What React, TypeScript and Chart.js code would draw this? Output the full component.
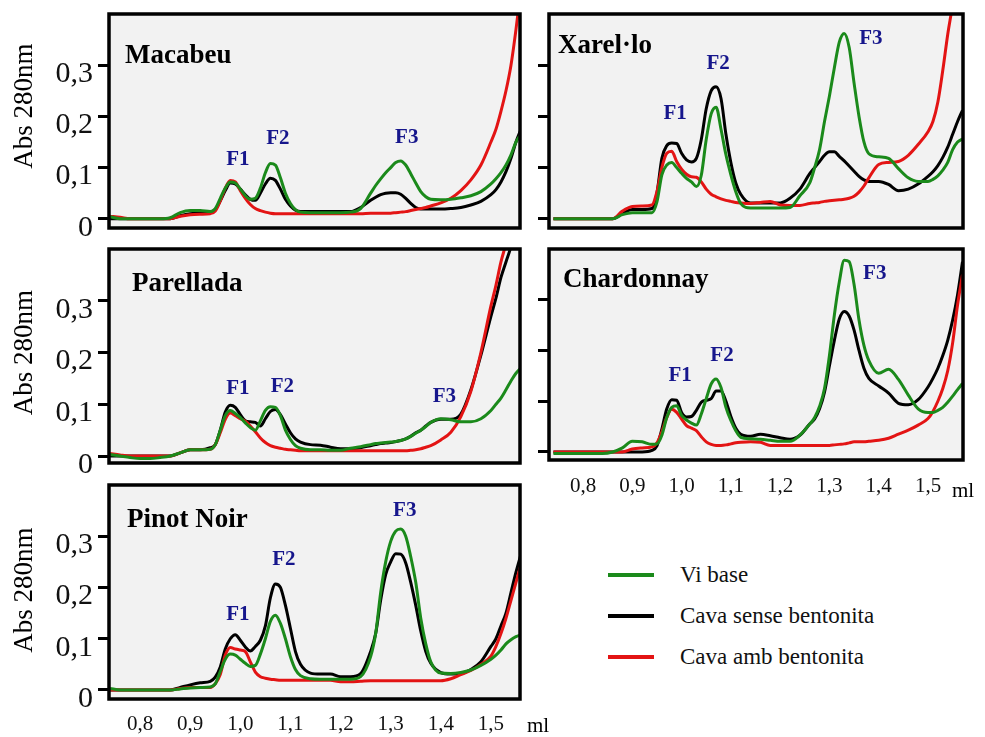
import React, { useEffect, useRef } from 'react';
import { Chart, registerables } from 'chart.js';

Chart.register(...registerables);

// ---------- data ----------
// elution volume (ml), shared by all panels
const volumeMl = [
  0.74, 0.76, 0.78, 0.80, 0.82, 0.84, 0.86,
  0.88, 0.90, 0.92, 0.94,
  0.95, 0.96, 0.97, 0.98, 0.99, 1.00, 1.01, 1.02, 1.03, 1.04, 1.05, 1.06, 1.07, 1.08, 1.09, 1.10, 1.11, 1.12,
  1.14, 1.16, 1.18, 1.20, 1.22, 1.24, 1.26,
  1.27, 1.28, 1.29, 1.30, 1.31, 1.32, 1.33, 1.34, 1.35, 1.36, 1.37, 1.38,
  1.40, 1.42, 1.44, 1.46, 1.48, 1.50,
  1.51, 1.52, 1.53, 1.54, 1.55, 1.56, 1.57,
];

const seriesNames = ['Vi base', 'Cava sense bentonita', 'Cava amb bentonita'];
const yTickValues = [0, 0.1, 0.2, 0.3];
const xTickValues = [0.8, 0.9, 1.0, 1.1, 1.2, 1.3, 1.4, 1.5];

// Macabeu
const macabeuVi = [
  0.004, 0, 0, 0, 0, 0, 0.002,
  0.012, 0.016, 0.016, 0.014,
  0.02, 0.04, 0.06, 0.072, 0.07, 0.058, 0.045, 0.038, 0.04, 0.06, 0.09, 0.108, 0.105, 0.08, 0.05, 0.03, 0.018, 0.013,
  0.012, 0.012, 0.012, 0.012, 0.013, 0.02, 0.05,
  0.065, 0.078, 0.09, 0.1, 0.11, 0.113, 0.105, 0.088, 0.07, 0.053, 0.043, 0.038,
  0.037, 0.038, 0.041, 0.045, 0.053, 0.068,
  0.078, 0.09, 0.105, 0.125, 0.15, 0.165, 0.18,
];
const macabeuSense = [
  0, 0, 0, 0, 0, 0, 0,
  0.006, 0.01, 0.011, 0.013,
  0.018, 0.035, 0.055, 0.07, 0.068, 0.058, 0.047, 0.038, 0.036, 0.05, 0.068, 0.079, 0.075, 0.058, 0.038, 0.025, 0.017, 0.014,
  0.014, 0.014, 0.014, 0.014, 0.014, 0.022, 0.036,
  0.042, 0.047, 0.05, 0.051, 0.051, 0.048, 0.04, 0.03, 0.022, 0.019, 0.019, 0.019,
  0.019, 0.02, 0.022, 0.027, 0.034, 0.047,
  0.057, 0.072, 0.092, 0.118, 0.15, 0.175, 0.2,
];
const macabeuAmb = [
  0.005, 0.003, 0, 0, 0, 0, 0,
  0.005, 0.008, 0.009, 0.01,
  0.015, 0.035, 0.06, 0.075, 0.072, 0.055, 0.04, 0.028, 0.02, 0.016, 0.013, 0.011, 0.01, 0.01, 0.01, 0.01, 0.01, 0.01,
  0.01, 0.01, 0.01, 0.01, 0.01, 0.01, 0.011,
  0.011, 0.011, 0.011, 0.011, 0.012, 0.013, 0.014, 0.016, 0.018, 0.02, 0.022, 0.025,
  0.031, 0.04, 0.055, 0.076, 0.105, 0.15,
  0.175, 0.21, 0.25, 0.3, 0.37, 0.45, 0.53,
];

// Xarel·lo
const xarelloVi = [
  0, 0, 0, 0, 0, 0, 0,
  0.008, 0.012, 0.012, 0.012,
  0.033, 0.086, 0.105, 0.11, 0.1, 0.089, 0.079, 0.072, 0.063, 0.085, 0.155, 0.205, 0.218, 0.175, 0.125, 0.086, 0.053, 0.03,
  0.021, 0.021, 0.021, 0.021, 0.022, 0.045, 0.07,
  0.1, 0.135, 0.19, 0.24, 0.295, 0.345, 0.362, 0.335, 0.265, 0.2, 0.15, 0.127,
  0.121, 0.118, 0.098, 0.08, 0.073, 0.073,
  0.077, 0.084, 0.095, 0.11, 0.135, 0.15, 0.156,
];
const xarelloSense = [
  0, 0, 0, 0, 0, 0, 0,
  0.01, 0.018, 0.018, 0.02,
  0.05, 0.118, 0.143, 0.148, 0.147, 0.128, 0.115, 0.111, 0.118, 0.155, 0.215, 0.25, 0.258, 0.235, 0.165, 0.11, 0.07, 0.048,
  0.031, 0.031, 0.031, 0.031, 0.04, 0.058, 0.088,
  0.1, 0.112, 0.124, 0.131, 0.131, 0.122, 0.113, 0.103, 0.093, 0.083, 0.076, 0.073,
  0.073, 0.067, 0.055, 0.058, 0.068, 0.083,
  0.092, 0.104, 0.12, 0.14, 0.165, 0.19, 0.212,
];
const xarelloAmb = [
  0, 0, 0, 0, 0, 0, 0,
  0.015, 0.024, 0.025, 0.027,
  0.053, 0.1, 0.128, 0.132, 0.112, 0.097, 0.087, 0.082, 0.081, 0.072, 0.058, 0.048, 0.043, 0.039, 0.036, 0.034, 0.032, 0.031,
  0.03, 0.032, 0.034, 0.027, 0.026, 0.026, 0.03,
  0.031, 0.032, 0.034, 0.035, 0.036, 0.037, 0.038, 0.04, 0.044, 0.052, 0.064, 0.08,
  0.106, 0.11, 0.112, 0.124, 0.145, 0.17,
  0.19, 0.228, 0.29, 0.36, 0.42, 0.5, 0.57,
];

// Parellada
const parelladaVi = [
  0.003, 0, -0.003, -0.005, -0.005, -0.003, 0,
  0.006, 0.012, 0.012, 0.013,
  0.022, 0.05, 0.078, 0.088, 0.082, 0.074, 0.064, 0.055, 0.05, 0.068, 0.088, 0.095, 0.094, 0.078, 0.05, 0.032, 0.02, 0.015,
  0.012, 0.012, 0.011, 0.011, 0.015, 0.018, 0.022,
  0.024, 0.025, 0.026, 0.027, 0.028, 0.03, 0.033, 0.038, 0.044, 0.05, 0.057, 0.065,
  0.072, 0.07, 0.066, 0.066, 0.072, 0.088,
  0.1, 0.112, 0.128, 0.145, 0.16, 0.17, 0.175,
];
const parelladaSense = [
  0, 0, 0, 0, 0, 0, 0,
  0.006, 0.012, 0.012, 0.016,
  0.022, 0.05, 0.085, 0.098, 0.094, 0.08, 0.068, 0.066, 0.065, 0.058, 0.072, 0.086, 0.09, 0.08, 0.062, 0.045, 0.033, 0.027,
  0.022, 0.021, 0.017, 0.014, 0.014, 0.016, 0.02,
  0.022, 0.024, 0.025, 0.026, 0.028, 0.03, 0.033, 0.038, 0.045, 0.05, 0.058, 0.065,
  0.071, 0.071, 0.081, 0.128, 0.195, 0.27,
  0.305, 0.345, 0.375, 0.405, 0.45, 0.5, 0.55,
];
const parelladaAmb = [
  0.005, 0.002, 0, 0, 0, 0, 0,
  0.006, 0.012, 0.012, 0.013,
  0.022, 0.045, 0.071, 0.083, 0.078, 0.072, 0.067, 0.058, 0.047, 0.035, 0.026, 0.02, 0.017, 0.015, 0.013, 0.012, 0.011, 0.01,
  0.01, 0.01, 0.01, 0.01, 0.01, 0.01, 0.01,
  0.01, 0.01, 0.01, 0.01, 0.01, 0.01, 0.01, 0.011, 0.012, 0.014, 0.017, 0.02,
  0.031, 0.046, 0.076, 0.125, 0.2, 0.29,
  0.33, 0.375, 0.41, 0.45, 0.5, 0.55, 0.6,
];

// Chardonnay
const chardonnayVi = [
  -0.003, -0.003, -0.003, -0.003, -0.003, -0.003, 0,
  0.008, 0.021, 0.02, 0.015,
  0.016, 0.033, 0.068, 0.088, 0.091, 0.072, 0.063, 0.057, 0.053, 0.075, 0.105, 0.134, 0.144, 0.127, 0.088, 0.062, 0.042, 0.029,
  0.026, 0.025, 0.023, 0.021, 0.021, 0.033, 0.055,
  0.068, 0.09, 0.125, 0.19, 0.27, 0.335, 0.378, 0.375, 0.33, 0.26, 0.21, 0.18,
  0.155, 0.163, 0.143, 0.112, 0.085, 0.078,
  0.078, 0.082, 0.088, 0.098, 0.11, 0.123, 0.135,
];
const chardonnaySense = [
  0, 0, 0, 0, 0, 0, 0,
  0, 0, 0, 0.003,
  0.012, 0.045, 0.085, 0.103, 0.102, 0.078, 0.069, 0.07, 0.082, 0.098, 0.102, 0.105, 0.12, 0.12, 0.1, 0.07, 0.047, 0.035,
  0.031, 0.035, 0.032, 0.028, 0.025, 0.033, 0.055,
  0.065, 0.085, 0.118, 0.17, 0.22, 0.262, 0.277, 0.268, 0.24, 0.2, 0.165, 0.145,
  0.13, 0.116, 0.096, 0.093, 0.103, 0.128,
  0.145, 0.165, 0.19, 0.22, 0.26, 0.31, 0.375,
];
const chardonnayAmb = [
  0, 0, 0, 0, 0, 0, 0,
  0, 0.006, 0.008, 0.01,
  0.018, 0.04, 0.068, 0.084, 0.078, 0.065, 0.052, 0.047, 0.042, 0.03, 0.02, 0.015, 0.013, 0.013, 0.014, 0.016, 0.018, 0.019,
  0.02, 0.019, 0.013, 0.013, 0.013, 0.013, 0.013,
  0.013, 0.013, 0.013, 0.013, 0.014, 0.015, 0.016, 0.018, 0.02, 0.02, 0.02, 0.021,
  0.023, 0.027, 0.035, 0.043, 0.053, 0.066,
  0.08, 0.1, 0.125, 0.16, 0.215, 0.29, 0.35,
];

// Pinot Noir
const pinotVi = [
  0.003, 0, 0, 0, 0, 0, 0,
  0.002, 0.004, 0.005, 0.006,
  0.012, 0.036, 0.06, 0.07, 0.068, 0.06, 0.052, 0.046, 0.048, 0.07, 0.1, 0.134, 0.146, 0.13, 0.1, 0.065, 0.04, 0.028,
  0.022, 0.021, 0.021, 0.021, 0.021, 0.026, 0.065,
  0.11, 0.19, 0.25, 0.29, 0.31, 0.314, 0.3, 0.26, 0.21, 0.14, 0.09, 0.055,
  0.033, 0.032, 0.034, 0.039, 0.048, 0.06,
  0.068, 0.078, 0.09, 0.098, 0.104, 0.108, 0.11,
];
const pinotSense = [
  0, 0, 0, 0, 0, 0, 0,
  0.005, 0.01, 0.014, 0.017,
  0.025, 0.045, 0.08, 0.1, 0.108, 0.097, 0.084, 0.076, 0.085, 0.097, 0.125, 0.18, 0.207, 0.2, 0.165, 0.12, 0.075, 0.05,
  0.033, 0.031, 0.031, 0.026, 0.026, 0.032, 0.075,
  0.11, 0.175, 0.225, 0.25, 0.266, 0.265, 0.248, 0.21, 0.165, 0.115, 0.075, 0.052,
  0.034, 0.031, 0.032, 0.04, 0.055, 0.085,
  0.1, 0.125, 0.15, 0.19, 0.23, 0.265, 0.3,
];
const pinotAmb = [
  0, 0, 0, 0, 0, 0, 0,
  0.003, 0.005, 0.005, 0.005,
  0.012, 0.03, 0.068, 0.083, 0.08, 0.078, 0.075, 0.055, 0.035, 0.026, 0.023, 0.021, 0.02, 0.019, 0.019, 0.019, 0.019, 0.019,
  0.019, 0.019, 0.019, 0.016, 0.016, 0.017, 0.018,
  0.018, 0.018, 0.018, 0.018, 0.018, 0.018, 0.018, 0.018, 0.018, 0.018, 0.018, 0.018,
  0.018, 0.022, 0.03, 0.038, 0.05, 0.066,
  0.085, 0.11, 0.14, 0.175, 0.21, 0.245, 0.28,
];

// fraction labels (label, volume, absorbance)
const macabeuPeaks = [
  { label: 'F1', x: 0.995, y: 0.115 },
  { label: 'F2', x: 1.075, y: 0.156 },
  { label: 'F3', x: 1.332, y: 0.158 },
];
const xarelloPeaks = [
  { label: 'F1', x: 0.987, y: 0.206 },
  { label: 'F2', x: 1.074, y: 0.304 },
  { label: 'F3', x: 1.384, y: 0.352 },
];
const parelladaPeaks = [
  { label: 'F1', x: 0.995, y: 0.131 },
  { label: 'F2', x: 1.084, y: 0.135 },
  { label: 'F3', x: 1.407, y: 0.115 },
];
const chardonnayPeaks = [
  { label: 'F1', x: 0.997, y: 0.15 },
  { label: 'F2', x: 1.082, y: 0.189 },
  { label: 'F3', x: 1.392, y: 0.351 },
];
const pinotPeaks = [
  { label: 'F1', x: 0.995, y: 0.148 },
  { label: 'F2', x: 1.087, y: 0.254 },
  { label: 'F3', x: 1.328, y: 0.35 },
];

// ---------- styles ----------
const FONT = '"Liberation Serif", "Times New Roman", Times, serif';
const GREEN = '#1b8a1b';
const BLACK = '#000000';
const RED = '#e31414';
const NAVY = '#16168c';

type Peak = { label: string; x: number; y: number };
type Panel = {
  key: string;
  title: string;
  vi: number[];
  sense: number[];
  amb: number[];
  peaks: Peak[];
  left: number; top: number; w: number; h: number;
  axisW: number; axisH: number; padTop: number; padRight: number;
  xMin: number; xMax: number; yMin: number;
  showY: boolean; showX: boolean; xPad: number;
  titleDx: number; titleBase: number;
  yTitleAt: number | null;
  unitDx: number | null; unitDy: number;
};

const panels: Panel[] = [
  {
    key: 'mac', title: 'Macabeu', vi: macabeuVi, sense: macabeuSense, amb: macabeuAmb, peaks: macabeuPeaks,
    left: 0, top: 0, w: 560, h: 240, axisW: 109, axisH: 12, padTop: 14, padRight: 40,
    xMin: 0.738, xMax: 1.558, yMin: -0.018, showY: true, showX: false, xPad: 11,
    titleDx: 16, titleBase: 49, yTitleAt: 0.22, unitDx: null, unitDy: 0,
  },
  {
    key: 'xar', title: 'Xarel·lo', vi: xarelloVi, sense: xarelloSense, amb: xarelloAmb, peaks: xarelloPeaks,
    left: 530, top: 0, w: 455, h: 240, axisW: 19, axisH: 12, padTop: 14, padRight: 22,
    xMin: 0.731, xMax: 1.571, yMin: -0.018, showY: false, showX: false, xPad: 11,
    titleDx: 9, titleBase: 39, yTitleAt: null, unitDx: null, unitDy: 0,
  },
  {
    key: 'par', title: 'Parellada', vi: parelladaVi, sense: parelladaSense, amb: parelladaAmb, peaks: parelladaPeaks,
    left: 0, top: 240, w: 560, h: 280, axisW: 109, axisH: 57, padTop: 9, padRight: 40,
    xMin: 0.738, xMax: 1.558, yMin: -0.0135, showY: true, showX: false, xPad: 11,
    titleDx: 23, titleBase: 42, yTitleAt: 0.2, unitDx: null, unitDy: 0,
  },
  {
    key: 'cha', title: 'Chardonnay', vi: chardonnayVi, sense: chardonnaySense, amb: chardonnayAmb, peaks: chardonnayPeaks,
    left: 530, top: 240, w: 455, h: 280, axisW: 19, axisH: 60, padTop: 9, padRight: 22,
    xMin: 0.731, xMax: 1.571, yMin: -0.0158, showY: false, showX: true, xPad: 14,
    titleDx: 14, titleBase: 38, yTitleAt: null, unitDx: -11, unitDy: 37,
  },
  {
    key: 'pin', title: 'Pinot Noir', vi: pinotVi, sense: pinotSense, amb: pinotAmb, peaks: pinotPeaks,
    left: 0, top: 470, w: 560, h: 267, axisW: 109, axisH: 38, padTop: 15, padRight: 40,
    xMin: 0.738, xMax: 1.558, yMin: -0.0176, showY: true, showX: true, xPad: 13,
    titleDx: 18, titleBase: 42, yTitleAt: 0.195, unitDx: 7, unitDy: 33,
  },
];

const fmt = (v: number) => (v === 0 ? '0' : Number(v).toFixed(1).replace('.', ','));

function PanelChart({ p }: { p: Panel }) {
  const ref = useRef<HTMLCanvasElement>(null);

  useEffect(() => {
    const canvas = ref.current;
    if (!canvas) return;

    const decor = {
      id: 'panelDecor',
      beforeDraw(chart: any) {
        const { ctx, chartArea: a } = chart;
        ctx.save();
        ctx.fillStyle = '#f2f2f2';
        ctx.fillRect(a.left, a.top, a.right - a.left, a.bottom - a.top);
        ctx.restore();
      },
      afterDraw(chart: any) {
        const { ctx, chartArea: a, scales } = chart;
        ctx.save();
        ctx.strokeStyle = '#000';
        ctx.lineWidth = 3.5;
        ctx.strokeRect(a.left, a.top, a.right - a.left, a.bottom - a.top);

        ctx.fillStyle = '#000';
        ctx.font = `bold 27px ${FONT}`;
        ctx.textAlign = 'left';
        ctx.textBaseline = 'alphabetic';
        ctx.fillText(p.title, a.left + p.titleDx, a.top + p.titleBase);

        ctx.fillStyle = NAVY;
        ctx.font = `bold 21px ${FONT}`;
        ctx.textAlign = 'center';
        ctx.textBaseline = 'middle';
        for (const pk of p.peaks) {
          ctx.fillText(pk.label, scales.x.getPixelForValue(pk.x), scales.y.getPixelForValue(pk.y));
        }

        if (p.yTitleAt !== null) {
          ctx.save();
          ctx.translate(25, scales.y.getPixelForValue(p.yTitleAt));
          ctx.rotate(-Math.PI / 2);
          ctx.fillStyle = '#000';
          ctx.font = `27px ${FONT}`;
          ctx.textAlign = 'center';
          ctx.textBaseline = 'middle';
          ctx.fillText('Abs 280nm', 0, 0);
          ctx.restore();
        }

        if (p.unitDx !== null) {
          ctx.fillStyle = '#000';
          ctx.font = `21px ${FONT}`;
          ctx.textAlign = 'left';
          ctx.textBaseline = 'alphabetic';
          ctx.fillText('ml', a.right + p.unitDx, a.bottom + p.unitDy);
        }
        ctx.restore();
      },
    };

    const toPoints = (arr: number[]) => volumeMl.map((x, i) => ({ x, y: arr[i] }));
    const lineStyle = {
      borderWidth: 3,
      pointRadius: 0,
      fill: false,
      cubicInterpolationMode: 'monotone' as const,
    };

    const chart = new Chart(canvas, {
      type: 'line',
      data: {
        datasets: [
          { label: seriesNames[0], data: toPoints(p.vi), borderColor: GREEN, ...lineStyle },
          { label: seriesNames[2], data: toPoints(p.amb), borderColor: RED, ...lineStyle },
          { label: seriesNames[1], data: toPoints(p.sense), borderColor: BLACK, ...lineStyle },
        ],
      },
      options: {
        responsive: false,
        maintainAspectRatio: false,
        animation: false,
        events: [],
        layout: { padding: { top: p.padTop, right: p.padRight, left: 0, bottom: 0 } },
        plugins: { legend: { display: false }, tooltip: { enabled: false } },
        scales: {
          x: {
            type: 'linear',
            min: p.xMin,
            max: p.xMax,
            afterBuildTicks: (s: any) => {
              s.ticks = xTickValues.map((value) => ({ value }));
            },
            afterFit: (s: any) => {
              s.height = p.axisH;
              s.paddingLeft = 0;
              s.paddingRight = 0;
            },
            grid: { display: false, drawTicks: false },
            border: { display: false },
            ticks: {
              display: p.showX,
              autoSkip: false,
              maxRotation: 0,
              padding: p.xPad,
              color: '#111',
              font: { family: FONT, size: 21 },
              callback: (v: any) => fmt(Number(v)),
            },
          },
          y: {
            type: 'linear',
            min: p.yMin,
            max: 0.4,
            afterBuildTicks: (s: any) => {
              s.ticks = yTickValues.map((value) => ({ value }));
            },
            afterFit: (s: any) => {
              s.width = p.axisW;
              s.paddingTop = 0;
              s.paddingBottom = 0;
            },
            grid: {
              display: true,
              drawOnChartArea: false,
              drawTicks: true,
              tickLength: 11,
              tickWidth: 3,
              tickColor: '#000',
            },
            border: { display: false },
            ticks: {
              display: p.showY,
              padding: 5,
              labelOffset: 9,
              color: '#111',
              font: { family: FONT, size: 30 },
              callback: (v: any) => fmt(Number(v)),
            },
          },
        },
      },
      plugins: [decor],
    } as any);

    return () => chart.destroy();
  }, [p]);

  return (
    <canvas
      ref={ref}
      width={p.w}
      height={p.h}
      style={{ position: 'absolute', left: p.left, top: p.top, width: p.w, height: p.h }}
    />
  );
}

const legendColors = [GREEN, BLACK, RED];

export default function App() {
  return (
    <div
      style={{
        position: 'absolute',
        left: 0,
        top: 0,
        width: 985,
        height: 737,
        background: '#ffffff',
        overflow: 'hidden',
      }}
    >
      {panels.map((p) => (
        <PanelChart key={p.key} p={p} />
      ))}
      <div style={{ position: 'absolute', left: 608, top: 554 }}>
        {seriesNames.map((name, i) => (
          <div key={name} style={{ display: 'flex', alignItems: 'center', height: 41 }}>
            <div style={{ width: 46, height: 4, background: legendColors[i] }} />
            <div
              style={{
                marginLeft: 26,
                fontFamily: FONT,
                fontSize: 23,
                color: '#111',
                lineHeight: '26px',
                whiteSpace: 'nowrap',
              }}
            >
              {name}
            </div>
          </div>
        ))}
      </div>
    </div>
  );
}
